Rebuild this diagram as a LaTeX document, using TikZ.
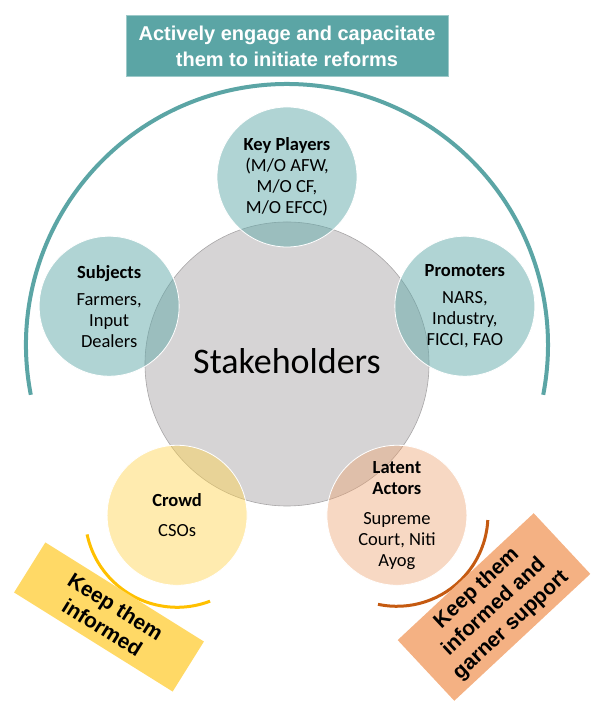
\documentclass[tikz,border=0pt]{standalone}
\usepackage{fontspec}
\setmainfont{Carlito}
\newfontfamily\headfont{Liberation Sans}
\usetikzlibrary{calc}
\definecolor{cTeal}{HTML}{5BA5A5}
\definecolor{cTealFill}{HTML}{62A9A9}
\definecolor{cCore}{HTML}{D6D4D5}
\definecolor{cCoreLine}{HTML}{A8A6A7}
\definecolor{cCrowd}{HTML}{FFD34D}
\definecolor{cLatent}{HTML}{EDA26F}
\definecolor{cGold}{HTML}{FFC000}
\definecolor{cRust}{HTML}{C55A11}
\definecolor{cNoteY}{HTML}{FFD966}
\definecolor{cNoteO}{HTML}{F4B183}
\tikzset{
  ring/.style  ={circle, minimum size=140pt, inner sep=0pt, align=center,
                 font=\fontsize{18.5}{21}\selectfont, draw=white, line width=0.8pt,
                 fill opacity=0.5, text opacity=1},
  tring/.style ={ring, fill=cTealFill},
  yring/.style ={ring, fill=cCrowd, fill opacity=0.45},
  oring/.style ={ring, fill=cLatent, fill opacity=0.42},
  core/.style  ={circle, minimum size=284pt, inner sep=0pt, fill=cCore, draw=cCoreLine,
                 line width=0.6pt},
  banner/.style={fill=cTeal, draw=cTeal!60, line width=0.6pt, align=center, text=white,
                 minimum width=322pt, minimum height=61pt,
                 font=\headfont\bfseries\fontsize{20}{26}\selectfont},
  note/.style  ={align=center, inner sep=0pt, font=\headfont\bfseries\fontsize{21}{25}\selectfont},
  reach/.style ={line width=4pt, draw=cTeal},
  band/.style  ={line width=3pt},
}

\begin{document}
\begin{tikzpicture}[x=1pt, y=1pt]
\useasboundingbox (0,0) rectangle (597,708);
\coordinate (hub) at (287,344);
\coordinate (rim) at (287,363);

% outer arc over the top five
\draw[reach] ([shift={(191:261)}]rim) arc[start angle=191, end angle=-11, radius=261];

\node[banner] (goal) at (287,662) {Actively engage and capacitate\\ them to initiate reforms};

\node[core] (stake) at (hub) {\fontsize{36}{40}\selectfont\raisebox{6pt}{Stakeholders}};

\node[tring] (key) at ($(hub)+(90:187)$)
   {\textbf{Key Players}\\ (M/O AFW,\\ M/O CF,\\ M/O EFCC)};
\node[tring] (subj) at ($(hub)+(162:187)$)
   {\textbf{Subjects}\\[6pt] Farmers,\\ Input\\ Dealers};
\node[tring] (prom) at ($(hub)+(18:187)$)
   {\textbf{Promoters}\\[6pt] NARS,\\ Industry,\\ FICCI, FAO};
\node[yring] (crowd) at ($(hub)+(234:187)$)
   {\textbf{Crowd}\\[9pt] CSOs};
\node[oring] (latent) at ($(hub)+(306:187)$)
   {\textbf{Latent}\\ \textbf{Actors}\\[9pt] Supreme\\ Court, Niti\\ Ayog};

% arcs under the two lower circles
\draw[band, cGold] ([shift={(192:92)}]crowd.center) arc[start angle=192, end angle=291, radius=92];
\draw[band, cRust] ([shift={(258:91)}]latent.center) arc[start angle=258, end angle=357, radius=91];

\node[note, fill=cNoteY, minimum width=187pt, minimum height=59pt, rotate=-32] (inform)
   at (109,91) {Keep them\\ informed};
\node[note, fill=cNoteO, minimum width=186pt, minimum height=83pt, rotate=43] (garner)
   at (494,101) {Keep them\\ informed and\\ garner support};
\end{tikzpicture}
\end{document}
